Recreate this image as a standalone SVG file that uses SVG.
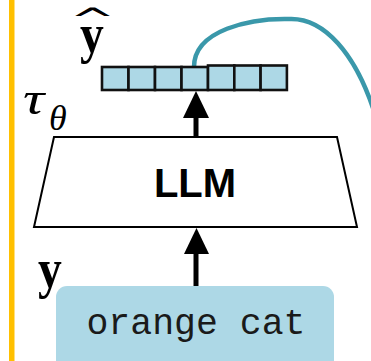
<svg xmlns="http://www.w3.org/2000/svg" width="371" height="361" viewBox="0 0 371 361">
<style>
.cell{fill:#add8e6;stroke:#111;stroke-width:2.6}
.math{font-family:"Liberation Serif","DejaVu Serif",serif}
.conn{stroke:#000;stroke-width:5;fill:none}
</style>
<rect width="371" height="361" fill="#fff"/>
<rect x="9" y="0" width="5.5" height="361" fill="#ffc000"/>
<g id="connectors">
<path class="conn" d="M196 137 L196 117"/>
<polygon points="183,118 209,118 196,91" fill="#000"/>
<path class="conn" d="M196 287 L196 252"/>
<polygon points="184,254 209,254 196.5,228" fill="#000"/>
<path d="M194 67 C194 30 250 18 290 19 C325 18 355 55 373 108" fill="none" stroke="#3a98aa" stroke-width="4.5"/>
</g>
<g id="yhat">
<rect class="cell" x="102" y="67" width="26.5" height="23"/>
<rect class="cell" x="128.5" y="67" width="26.5" height="23"/>
<rect class="cell" x="155" y="67" width="26.5" height="23"/>
<rect class="cell" x="181.5" y="67" width="26.5" height="23"/>
<rect class="cell" x="208" y="65.5" width="26.3" height="24.5"/>
<rect class="cell" x="234.3" y="65.5" width="26.3" height="24.5"/>
<rect class="cell" x="260.6" y="65.5" width="26.3" height="24.5"/>
<text class="math" font-weight="bold" font-size="56" transform="translate(92,52) scale(0.85,1)" text-anchor="middle">y</text>
<text font-family="DejaVu Sans,sans-serif" font-size="50" transform="translate(92.5,30) scale(1.1,0.62)" text-anchor="middle">^</text>
</g>
<g id="llm">
<polygon points="54,137 337,137 357,227 34,227" fill="#fff" stroke="#000" stroke-width="2"/>
<text x="195" y="197" font-family="Liberation Sans,Arial,sans-serif" font-weight="bold" font-size="40" text-anchor="middle">LLM</text>
<text class="math" font-style="italic" font-size="44" transform="translate(23,114) scale(1.35,1.05)">τ</text>
<text class="math" font-style="italic" font-size="36" x="49" y="130">θ</text>
</g>
<g id="input">
<rect x="56" y="286" width="278" height="86" rx="11" fill="#add8e6"/>
<text x="196" y="334" font-family="Liberation Mono,Courier New,monospace" font-size="36.5" text-anchor="middle" fill="#1a1a1a">orange cat</text>
<text class="math" font-weight="bold" font-size="56" transform="translate(50,287) scale(0.85,1)" text-anchor="middle">y</text>
</g>
</svg>
